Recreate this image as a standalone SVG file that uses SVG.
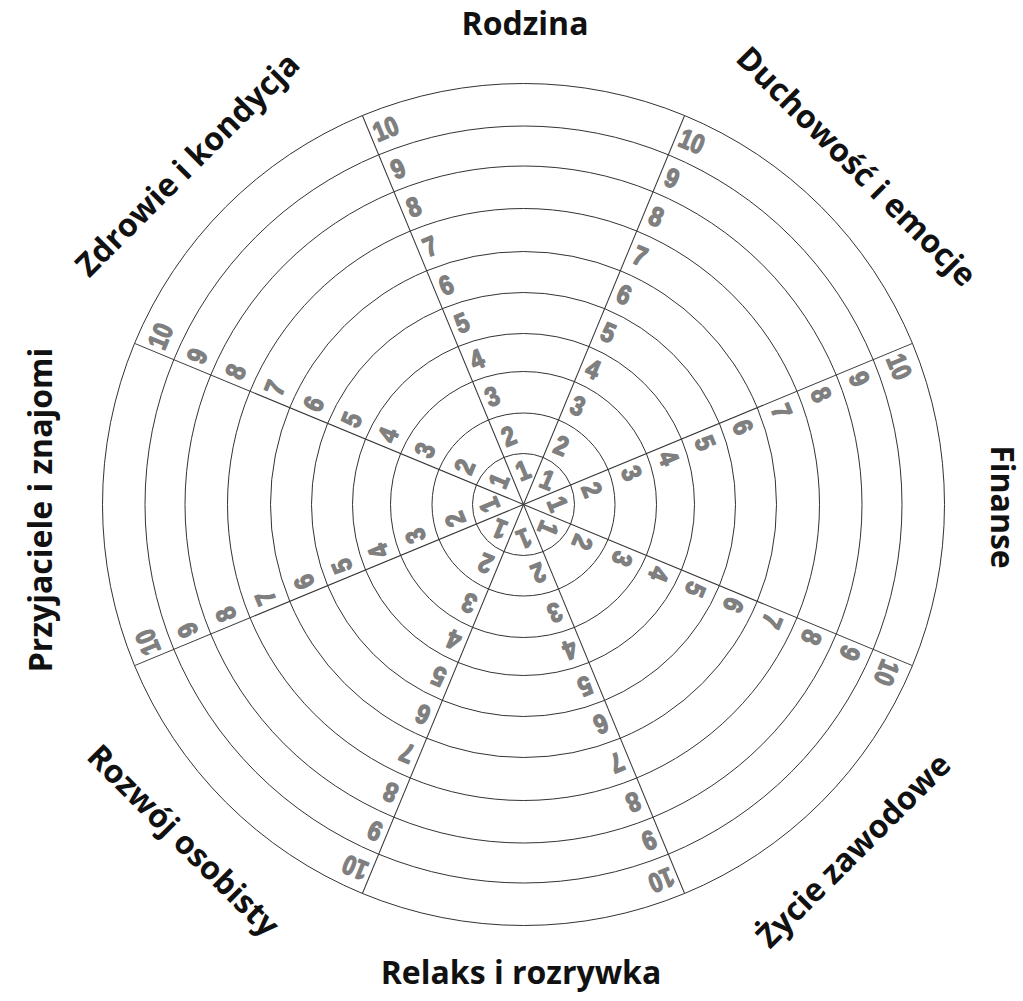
<svg xmlns="http://www.w3.org/2000/svg" width="1023" height="1001" viewBox="0 0 1023 1001">
<style>
.ring{fill:none;stroke:#333;stroke-width:1}
.sp{stroke:#333;stroke-width:1}
.num{font-family:"Liberation Sans",Arial,sans-serif;font-weight:bold;font-size:27px;fill:#7f7f7f;stroke:#7f7f7f;stroke-width:1.4;stroke-linejoin:round}
.lbl{font-family:"Open Sans","Noto Sans",sans-serif;font-weight:bold;font-size:32px;fill:#111;text-anchor:middle}
</style>
<rect width="1023" height="1001" fill="#fff"/>
<g id="rings" transform="translate(523.5,504.5)">
<circle class="ring" r="51"/><circle class="ring" r="91.5"/><circle class="ring" r="133"/><circle class="ring" r="171"/><circle class="ring" r="212"/><circle class="ring" r="253"/><circle class="ring" r="296"/><circle class="ring" r="338.5"/><circle class="ring" r="378.5"/><circle class="ring" r="421"/>
</g>
<g id="spoke-1" transform="translate(523.5,504.5) rotate(22.5)">
<line class="sp" x1="0" y1="0" x2="0" y2="-421"/>
<text class="num" x="6" y="-22.5" textLength="13" lengthAdjust="spacingAndGlyphs">1</text><text class="num" x="6" y="-59.5" textLength="13" lengthAdjust="spacingAndGlyphs">2</text><text class="num" x="6" y="-102.5" textLength="13" lengthAdjust="spacingAndGlyphs">3</text><text class="num" x="6" y="-142.5" textLength="13" lengthAdjust="spacingAndGlyphs">4</text><text class="num" x="6" y="-182" textLength="13" lengthAdjust="spacingAndGlyphs">5</text><text class="num" x="6" y="-223" textLength="13" lengthAdjust="spacingAndGlyphs">6</text><text class="num" x="6" y="-265" textLength="13" lengthAdjust="spacingAndGlyphs">7</text><text class="num" x="6" y="-307.5" textLength="13" lengthAdjust="spacingAndGlyphs">8</text><text class="num" x="6" y="-349" textLength="13" lengthAdjust="spacingAndGlyphs">9</text><text class="num" x="4" y="-390.5" textLength="25" lengthAdjust="spacingAndGlyphs">10</text>
</g>
<g id="spoke-2" transform="translate(523.5,504.5) rotate(67.5)">
<line class="sp" x1="0" y1="0" x2="0" y2="-421"/>
<text class="num" x="6" y="-22.5" textLength="13" lengthAdjust="spacingAndGlyphs">1</text><text class="num" x="6" y="-59.5" textLength="13" lengthAdjust="spacingAndGlyphs">2</text><text class="num" x="6" y="-102.5" textLength="13" lengthAdjust="spacingAndGlyphs">3</text><text class="num" x="6" y="-142.5" textLength="13" lengthAdjust="spacingAndGlyphs">4</text><text class="num" x="6" y="-182" textLength="13" lengthAdjust="spacingAndGlyphs">5</text><text class="num" x="6" y="-223" textLength="13" lengthAdjust="spacingAndGlyphs">6</text><text class="num" x="6" y="-265" textLength="13" lengthAdjust="spacingAndGlyphs">7</text><text class="num" x="6" y="-307.5" textLength="13" lengthAdjust="spacingAndGlyphs">8</text><text class="num" x="6" y="-349" textLength="13" lengthAdjust="spacingAndGlyphs">9</text><text class="num" x="4" y="-390.5" textLength="25" lengthAdjust="spacingAndGlyphs">10</text>
</g>
<g id="spoke-3" transform="translate(523.5,504.5) rotate(112.5)">
<line class="sp" x1="0" y1="0" x2="0" y2="-421"/>
<text class="num" x="6" y="-22.5" textLength="13" lengthAdjust="spacingAndGlyphs">1</text><text class="num" x="6" y="-59.5" textLength="13" lengthAdjust="spacingAndGlyphs">2</text><text class="num" x="6" y="-102.5" textLength="13" lengthAdjust="spacingAndGlyphs">3</text><text class="num" x="6" y="-142.5" textLength="13" lengthAdjust="spacingAndGlyphs">4</text><text class="num" x="6" y="-182" textLength="13" lengthAdjust="spacingAndGlyphs">5</text><text class="num" x="6" y="-223" textLength="13" lengthAdjust="spacingAndGlyphs">6</text><text class="num" x="6" y="-265" textLength="13" lengthAdjust="spacingAndGlyphs">7</text><text class="num" x="6" y="-307.5" textLength="13" lengthAdjust="spacingAndGlyphs">8</text><text class="num" x="6" y="-349" textLength="13" lengthAdjust="spacingAndGlyphs">9</text><text class="num" x="4" y="-390.5" textLength="25" lengthAdjust="spacingAndGlyphs">10</text>
</g>
<g id="spoke-4" transform="translate(523.5,504.5) rotate(157.5)">
<line class="sp" x1="0" y1="0" x2="0" y2="-421"/>
<text class="num" x="6" y="-22.5" textLength="13" lengthAdjust="spacingAndGlyphs">1</text><text class="num" x="6" y="-59.5" textLength="13" lengthAdjust="spacingAndGlyphs">2</text><text class="num" x="6" y="-102.5" textLength="13" lengthAdjust="spacingAndGlyphs">3</text><text class="num" x="6" y="-142.5" textLength="13" lengthAdjust="spacingAndGlyphs">4</text><text class="num" x="6" y="-182" textLength="13" lengthAdjust="spacingAndGlyphs">5</text><text class="num" x="6" y="-223" textLength="13" lengthAdjust="spacingAndGlyphs">6</text><text class="num" x="6" y="-265" textLength="13" lengthAdjust="spacingAndGlyphs">7</text><text class="num" x="6" y="-307.5" textLength="13" lengthAdjust="spacingAndGlyphs">8</text><text class="num" x="6" y="-349" textLength="13" lengthAdjust="spacingAndGlyphs">9</text><text class="num" x="4" y="-390.5" textLength="25" lengthAdjust="spacingAndGlyphs">10</text>
</g>
<g id="spoke-5" transform="translate(523.5,504.5) rotate(202.5)">
<line class="sp" x1="0" y1="0" x2="0" y2="-421"/>
<text class="num" x="6" y="-22.5" textLength="13" lengthAdjust="spacingAndGlyphs">1</text><text class="num" x="6" y="-59.5" textLength="13" lengthAdjust="spacingAndGlyphs">2</text><text class="num" x="6" y="-102.5" textLength="13" lengthAdjust="spacingAndGlyphs">3</text><text class="num" x="6" y="-142.5" textLength="13" lengthAdjust="spacingAndGlyphs">4</text><text class="num" x="6" y="-182" textLength="13" lengthAdjust="spacingAndGlyphs">5</text><text class="num" x="6" y="-223" textLength="13" lengthAdjust="spacingAndGlyphs">6</text><text class="num" x="6" y="-265" textLength="13" lengthAdjust="spacingAndGlyphs">7</text><text class="num" x="6" y="-307.5" textLength="13" lengthAdjust="spacingAndGlyphs">8</text><text class="num" x="6" y="-349" textLength="13" lengthAdjust="spacingAndGlyphs">9</text><text class="num" x="4" y="-390.5" textLength="25" lengthAdjust="spacingAndGlyphs">10</text>
</g>
<g id="spoke-6" transform="translate(523.5,504.5) rotate(247.5)">
<line class="sp" x1="0" y1="0" x2="0" y2="-421"/>
<text class="num" x="6" y="-22.5" textLength="13" lengthAdjust="spacingAndGlyphs">1</text><text class="num" x="6" y="-59.5" textLength="13" lengthAdjust="spacingAndGlyphs">2</text><text class="num" x="6" y="-102.5" textLength="13" lengthAdjust="spacingAndGlyphs">3</text><text class="num" x="6" y="-142.5" textLength="13" lengthAdjust="spacingAndGlyphs">4</text><text class="num" x="6" y="-182" textLength="13" lengthAdjust="spacingAndGlyphs">5</text><text class="num" x="6" y="-223" textLength="13" lengthAdjust="spacingAndGlyphs">6</text><text class="num" x="6" y="-265" textLength="13" lengthAdjust="spacingAndGlyphs">7</text><text class="num" x="6" y="-307.5" textLength="13" lengthAdjust="spacingAndGlyphs">8</text><text class="num" x="6" y="-349" textLength="13" lengthAdjust="spacingAndGlyphs">9</text><text class="num" x="4" y="-390.5" textLength="25" lengthAdjust="spacingAndGlyphs">10</text>
</g>
<g id="spoke-7" transform="translate(523.5,504.5) rotate(292.5)">
<line class="sp" x1="0" y1="0" x2="0" y2="-421"/>
<text class="num" x="6" y="-22.5" textLength="13" lengthAdjust="spacingAndGlyphs">1</text><text class="num" x="6" y="-59.5" textLength="13" lengthAdjust="spacingAndGlyphs">2</text><text class="num" x="6" y="-102.5" textLength="13" lengthAdjust="spacingAndGlyphs">3</text><text class="num" x="6" y="-142.5" textLength="13" lengthAdjust="spacingAndGlyphs">4</text><text class="num" x="6" y="-182" textLength="13" lengthAdjust="spacingAndGlyphs">5</text><text class="num" x="6" y="-223" textLength="13" lengthAdjust="spacingAndGlyphs">6</text><text class="num" x="6" y="-265" textLength="13" lengthAdjust="spacingAndGlyphs">7</text><text class="num" x="6" y="-307.5" textLength="13" lengthAdjust="spacingAndGlyphs">8</text><text class="num" x="6" y="-349" textLength="13" lengthAdjust="spacingAndGlyphs">9</text><text class="num" x="4" y="-390.5" textLength="25" lengthAdjust="spacingAndGlyphs">10</text>
</g>
<g id="spoke-8" transform="translate(523.5,504.5) rotate(337.5)">
<line class="sp" x1="0" y1="0" x2="0" y2="-421"/>
<text class="num" x="6" y="-22.5" textLength="13" lengthAdjust="spacingAndGlyphs">1</text><text class="num" x="6" y="-59.5" textLength="13" lengthAdjust="spacingAndGlyphs">2</text><text class="num" x="6" y="-102.5" textLength="13" lengthAdjust="spacingAndGlyphs">3</text><text class="num" x="6" y="-142.5" textLength="13" lengthAdjust="spacingAndGlyphs">4</text><text class="num" x="6" y="-182" textLength="13" lengthAdjust="spacingAndGlyphs">5</text><text class="num" x="6" y="-223" textLength="13" lengthAdjust="spacingAndGlyphs">6</text><text class="num" x="6" y="-265" textLength="13" lengthAdjust="spacingAndGlyphs">7</text><text class="num" x="6" y="-307.5" textLength="13" lengthAdjust="spacingAndGlyphs">8</text><text class="num" x="6" y="-349" textLength="13" lengthAdjust="spacingAndGlyphs">9</text><text class="num" x="4" y="-390.5" textLength="25" lengthAdjust="spacingAndGlyphs">10</text>
</g>
<g id="label-rodzina"><text class="lbl" x="525" y="35">Rodzina</text></g>
<g id="label-duchowosc"><text class="lbl" transform="translate(848.6,174.4) rotate(45)">Duchowość i emocje</text></g>
<g id="label-finanse"><text class="lbl" transform="translate(991,507) rotate(90)">Finanse</text></g>
<g id="label-zycie"><text class="lbl" transform="translate(861.4,858.4) rotate(-45)">Życie zawodowe</text></g>
<g id="label-relaks"><text class="lbl" x="521" y="984">Relaks i rozrywka</text></g>
<g id="label-rozwoj"><text class="lbl" transform="translate(175.6,848.4) rotate(45)">Rozwój osobisty</text></g>
<g id="label-przyjaciele"><text class="lbl" transform="translate(52,510) rotate(-90)">Przyjaciele i znajomi</text></g>
<g id="label-zdrowie"><text class="lbl" transform="translate(195.4,172.4) rotate(-45)">Zdrowie i kondycja</text></g>
</svg>
